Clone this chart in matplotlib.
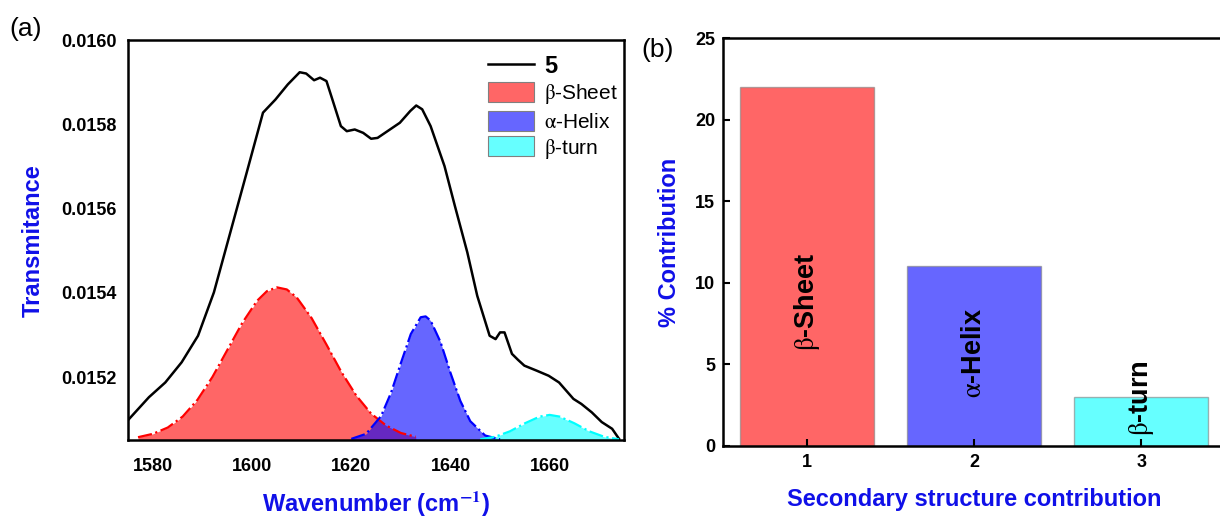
import matplotlib.pyplot as plt

plt.rcParams['font.family'] = ['Liberation Sans', 'DejaVu Sans']
plt.rcParams['mathtext.fontset'] = 'stix'

# measured spectrum (sample 5)
wn = [1575.1, 1579.2, 1582.5, 1585.8, 1589.1, 1592.3, 1595.6, 1598.9, 1602.2, 1604.7,
      1607.2, 1609.6, 1610.9, 1612.5, 1613.7, 1615.0, 1616.2, 1617.9, 1619.1, 1620.7,
      1622.4, 1624.0, 1625.3, 1627.3, 1629.8, 1631.9, 1633.1, 1634.3, 1636.0, 1638.8,
      1640.9, 1643.4, 1645.4, 1647.9, 1649.1, 1650.0, 1650.9, 1652.4, 1653.6, 1654.9,
      1657.4, 1659.8, 1661.9, 1664.8, 1666.4, 1668.5, 1670.5, 1672.6, 1674.0]
trans = [0.015099, 0.015152, 0.015187, 0.015235, 0.015298, 0.015401, 0.015543, 0.015685,
         0.015828, 0.015859, 0.015895, 0.015924, 0.015921, 0.015905, 0.015911, 0.015903,
         0.015859, 0.015796, 0.015784, 0.015788, 0.015780, 0.015766, 0.015768, 0.015784,
         0.015804, 0.015832, 0.015845, 0.015836, 0.015796, 0.015701, 0.015606, 0.015496,
         0.015393, 0.015298, 0.015290, 0.015306, 0.015306, 0.015255, 0.015241, 0.015227,
         0.015215, 0.015203, 0.015187, 0.015148, 0.015136, 0.015116, 0.015093, 0.015077,
         0.015053]

# fitted components
sheet_x = [1577, 1580, 1583, 1586, 1589, 1592, 1595, 1598, 1601, 1603, 1605, 1607,
           1609, 1612, 1615, 1618, 1621, 1624, 1627, 1630, 1633]
sheet_y = [0.015057, 0.015065, 0.015080, 0.015106, 0.015146, 0.015200, 0.015264,
           0.015328, 0.015381, 0.015404, 0.015413, 0.015408, 0.015389, 0.015340,
           0.015277, 0.015212, 0.015156, 0.015113, 0.015085, 0.015067, 0.015058]
helix_x = [1620, 1623, 1626, 1628, 1630, 1632, 1634, 1635, 1636, 1638, 1640, 1642,
           1644, 1647, 1650]
helix_y = [0.015053, 0.015065, 0.015107, 0.015162, 0.015233, 0.015302, 0.015342,
           0.015344, 0.015334, 0.015283, 0.015210, 0.015143, 0.015095, 0.015061,
           0.015052]
turn_x = [1646, 1649, 1652, 1655, 1658, 1660, 1662, 1665, 1668, 1671, 1674]
turn_y = [0.015052, 0.015058, 0.015071, 0.015090, 0.015106, 0.015110, 0.015106,
          0.015090, 0.015071, 0.015058, 0.015052]

# panel b
positions = [1, 2, 3]
contribution = [22, 11, 3]
bar_labels = [r'$\mathrm{\beta}$-Sheet', r'$\mathrm{\alpha}$-Helix', r'$\mathrm{\beta}$-turn']
label_y = [8.8, 5.7, 2.95]

colors = ['red', 'blue', 'cyan']
base = 0.01505
blue_txt = '#1010e8'

fig = plt.figure(figsize=(12.2, 5.16), dpi=100)

ax1 = fig.add_axes([0.105, 0.147, 0.4065, 0.775])
ax1.plot(wn, trans, color='black', lw=1.8, label='5')
for xs, ys, c, name in zip([sheet_x, helix_x, turn_x], [sheet_y, helix_y, turn_y],
                           colors, bar_labels):
    ax1.fill_between(xs, base, ys, color=c, alpha=0.6, lw=0, label=name)
    ax1.plot(xs, ys, color=c, lw=1.6, ls='-.')

ax1.set_xlim(1575, 1675)
ax1.set_ylim(base, 0.0160)
ax1.set_xticks([1580, 1600, 1620, 1640, 1660])
ax1.set_yticks([0.0152, 0.0154, 0.0156, 0.0158, 0.0160])
ax1.set_yticklabels(['0.0152', '0.0154', '0.0156', '0.0158', '0.0160'])
ax1.tick_params(axis='y', length=0, labelsize=13, pad=8)
ax1.tick_params(axis='x', length=0, labelsize=13, pad=13)
for lab in ax1.get_xticklabels() + ax1.get_yticklabels():
    lab.set_fontweight('bold')
for sp in ax1.spines.values():
    sp.set_linewidth(1.8)
ax1.set_xlabel('Wavenumber (cm$^{\\mathbf{-1}}$)', color=blue_txt, fontsize=17,
               fontweight='bold', labelpad=10)
ax1.set_ylabel('Transmitance', color=blue_txt, fontsize=17, fontweight='bold', labelpad=12)

handles, labels = ax1.get_legend_handles_labels()
leg = ax1.legend(handles, labels, loc='upper right', bbox_to_anchor=(1.005, 0.985),
                 frameon=False, fontsize=15, handlelength=2.2, handleheight=1.1,
                 labelspacing=0.22, borderaxespad=0.0, handletextpad=0.5)
leg.get_texts()[0].set_fontweight('bold')
leg.get_texts()[0].set_fontsize(17)
for p in leg.get_patches():
    p.set_edgecolor('grey')
    p.set_linewidth(0.8)

fig.text(0.008, 0.93, '(a)', fontsize=19)

ax2 = fig.add_axes([0.593, 0.136, 0.411, 0.79])
ax2.bar(positions, contribution, width=0.8, color=colors, alpha=0.6,
        edgecolor='grey', linewidth=1)
for x, y, t in zip(positions, label_y, bar_labels):
    ax2.text(x, y, t, rotation=90, ha='center', va='center', fontsize=19.5,
             fontweight='bold')
ax2.set_xlim(0.5, 3.5)
ax2.set_ylim(0, 25)
ax2.set_xticks(positions)
ax2.set_yticks([0, 5, 10, 15, 20, 25])
ax2.tick_params(direction='in', length=5, width=1.5, labelsize=13, pad=6)
for lab in ax2.get_xticklabels() + ax2.get_yticklabels():
    lab.set_fontweight('bold')
for sp in ax2.spines.values():
    sp.set_linewidth(1.8)
ax2.set_xlabel('Secondary structure contribution', color=blue_txt, fontsize=17,
               fontweight='bold', labelpad=12)
ax2.set_ylabel('% Contribution', color=blue_txt, fontsize=17, fontweight='bold', labelpad=10)

fig.text(0.526, 0.89, '(b)', fontsize=19)

fig.savefig('out.png', dpi=100)
